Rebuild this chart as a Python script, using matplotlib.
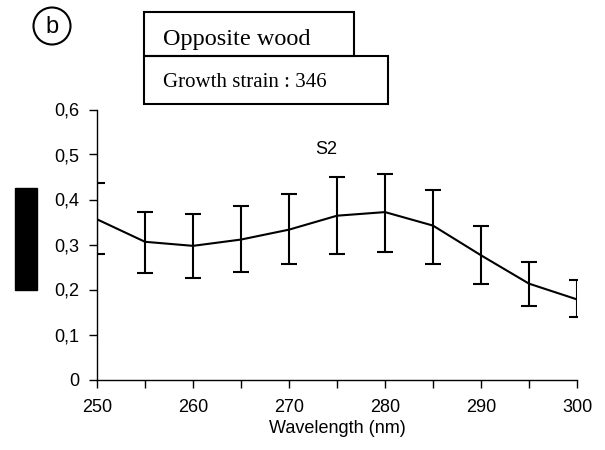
import matplotlib
matplotlib.use('Agg')
import matplotlib.pyplot as plt
from matplotlib.patches import Rectangle, Ellipse
from matplotlib.ticker import FuncFormatter, MultipleLocator

# spectrum (S2 layer), mean and error bar ends
wavelength = [250, 255, 260, 265, 270, 275, 280, 285, 290, 295, 300]
absorb = [0.356, 0.306, 0.297, 0.311, 0.333, 0.364, 0.372, 0.342, 0.276, 0.213, 0.178]
err_top = [0.436, 0.372, 0.368, 0.386, 0.412, 0.449, 0.457, 0.421, 0.341, 0.261, 0.221]
err_bot = [0.278, 0.236, 0.226, 0.239, 0.257, 0.279, 0.284, 0.257, 0.213, 0.164, 0.138]

W, H = 605, 450
plt.rcParams['font.family'] = ['Liberation Sans', 'DejaVu Sans']

def fx(x):
    return x / W

def fy(y):
    return 1 - y / H

fig = plt.figure(figsize=(6.05, 4.5), dpi=100)
ax = fig.add_axes([fx(97), fy(379.5), 480 / W, 270 / H])

lo = [a - b for a, b in zip(absorb, err_bot)]
hi = [b - a for a, b in zip(absorb, err_top)]
ax.errorbar(wavelength, absorb, yerr=[lo, hi], color='k', lw=1.5,
            elinewidth=1.5, capsize=5.6, capthick=1.5)

ax.set_xlim(250, 300)
ax.set_ylim(0, 0.6)
ax.xaxis.set_major_locator(MultipleLocator(5))
ax.yaxis.set_major_locator(MultipleLocator(0.1))
ax.xaxis.set_major_formatter(FuncFormatter(lambda v, p: '%d' % v if round(v) % 10 == 0 else ''))
ax.yaxis.set_major_formatter(FuncFormatter(lambda v, p: '0' if abs(v) < 1e-9 else ('%.1f' % v).replace('.', ',')))
ax.tick_params(direction='out', length=6, width=1, labelsize=13)
ax.tick_params(axis='x', pad=8)
ax.tick_params(axis='y', pad=7)
for s in ['top', 'right']:
    ax.spines[s].set_visible(False)
for s in ['left', 'bottom']:
    ax.spines[s].set_linewidth(1)
ax.set_xlabel('Wavelength (nm)', fontsize=13, labelpad=3)

fig.text(fx(326), fy(149), 'S2', fontsize=13, ha='center', va='center')

# hidden y label block
fig.patches.append(Rectangle((fx(15), fy(290)), 22 / W, 102 / H, transform=fig.transFigure,
                             color='k', figure=fig))

# panel letter
fig.patches.append(Ellipse((fx(52), fy(26)), 37 / W, 37 / H, transform=fig.transFigure,
                           fill=False, lw=1.5, ec='k', figure=fig))
fig.text(fx(52), fy(27), 'b', fontsize=17, ha='center', va='center')

# title boxes
fig.patches.append(Rectangle((fx(143.5), fy(56)), 210 / W, 43.5 / H, transform=fig.transFigure,
                             fill=False, lw=1.5, ec='k', figure=fig))
fig.patches.append(Rectangle((fx(143.5), fy(104)), 244 / W, 47.5 / H, transform=fig.transFigure,
                             fill=False, lw=1.5, ec='k', figure=fig))
fig.text(fx(163), fy(45), 'Opposite wood', fontsize=17.5, family='Liberation Serif',
         ha='left', va='baseline')
fig.text(fx(163), fy(87), 'Growth strain : 346', fontsize=15, family='Liberation Serif',
         ha='left', va='baseline')

fig.savefig('out.png', dpi=100)
